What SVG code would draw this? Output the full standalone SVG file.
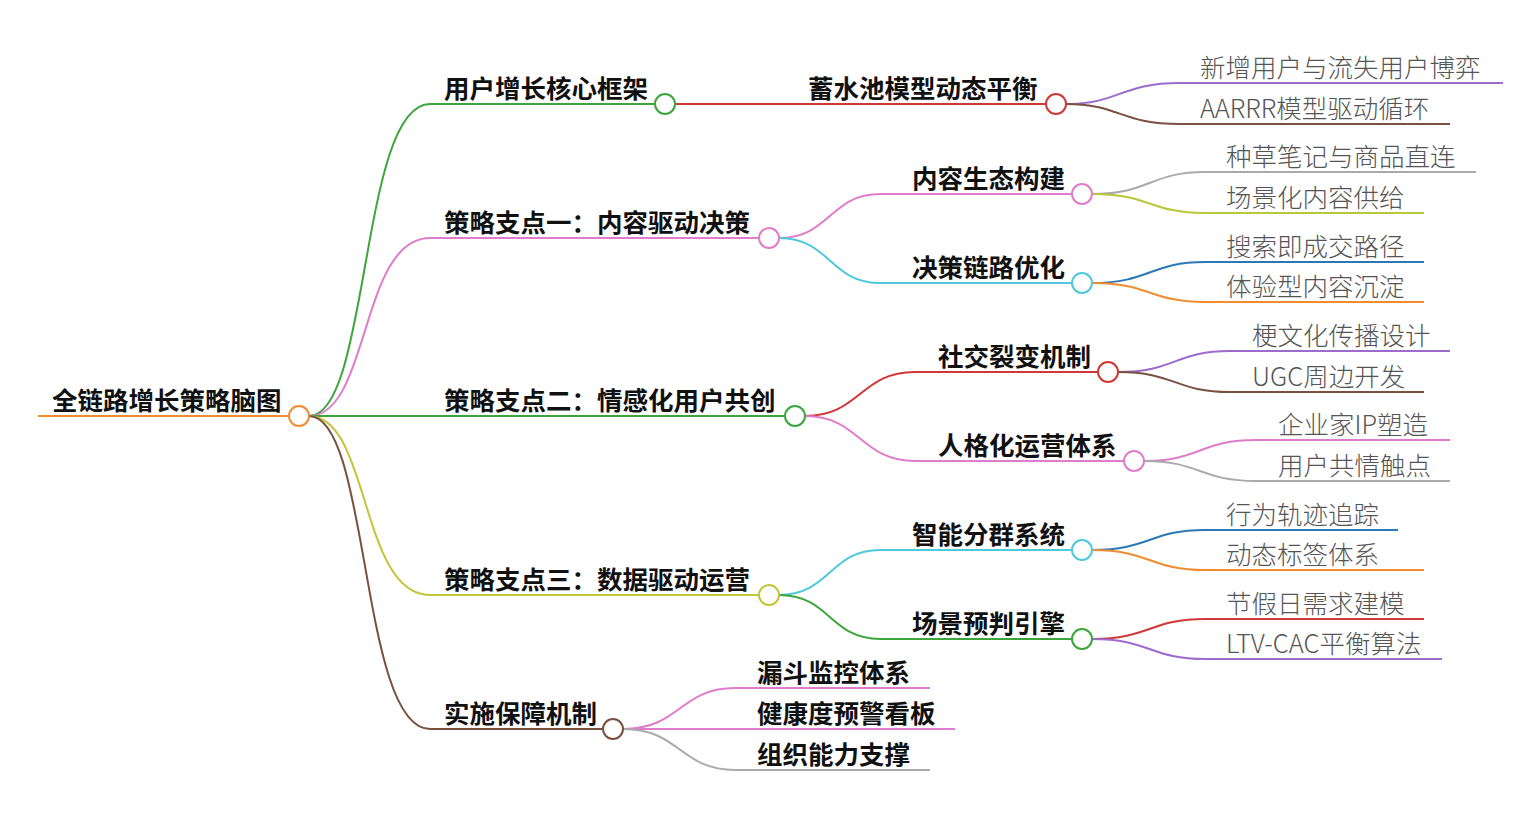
<svg xmlns="http://www.w3.org/2000/svg" width="1537" height="820" viewBox="0 0 1537 820">
<style>
text{font-family:"Noto Sans CJK SC","Noto Sans",sans-serif}
.b{font-size:25.5px;font-weight:700;fill:#111}
.l{font-size:25.5px;font-weight:300;fill:#555}
path{fill:none;stroke-width:2}
circle{fill:#fff;stroke-width:2}
</style>
<rect width="1537" height="820" fill="#fff"/>
<g id="connectors">
<path d="M38,416H290" stroke="#f08c32" stroke-width="3"/>
<path d="M309,416C370,416 360,104 430,104H655" stroke="#3ca53c"/>
<path d="M309,416C370,416 360,238 430,238H759" stroke="#e07ccc"/>
<path d="M309,416H785" stroke="#3ca53c"/>
<path d="M309,416C370,416 360,595 430,595H759" stroke="#c4c43a"/>
<path d="M309,416C370,416 360,729 430,729H603" stroke="#7a5040"/>
<path d="M675,104H1046" stroke="#d03838"/>
<path d="M779,238C830,238 830,194 880,194H1072" stroke="#e07ccc"/>
<path d="M779,238C830,238 830,283 880,283H1072" stroke="#50c8dc"/>
<path d="M805,416C860,416 860,372 915,372H1098" stroke="#d03838"/>
<path d="M805,416C860,416 860,461 915,461H1124" stroke="#e07ccc"/>
<path d="M779,595C830,595 830,550 880,550H1072" stroke="#50c8dc"/>
<path d="M779,595C830,595 830,639 880,639H1072" stroke="#3ca53c"/>
<path d="M623,729C680,729 680,688 735,688H930" stroke="#e07ccc"/>
<path d="M623,729H955" stroke="#e07ccc"/>
<path d="M623,729C680,729 680,770 735,770H930" stroke="#aaa"/>
<path d="M1066,104C1120,104 1120,83 1180,83H1503" stroke="#9c6ccc"/>
<path d="M1066,104C1120,104 1120,124 1180,124H1450" stroke="#7a5040"/>
<path d="M1092,194C1150,194 1150,172 1205,172H1476" stroke="#aaa"/>
<path d="M1092,194C1150,194 1150,213 1205,213H1424" stroke="#b8c83a"/>
<path d="M1092,283C1150,283 1150,262 1205,262H1424" stroke="#2c78b4"/>
<path d="M1092,283C1150,283 1150,302 1205,302H1424" stroke="#f08c32"/>
<path d="M1118,372C1175,372 1175,351 1230,351H1450" stroke="#9c6ccc"/>
<path d="M1118,372C1175,372 1175,392 1230,392H1424" stroke="#7a5040"/>
<path d="M1144,461C1200,461 1200,440 1256,440H1450" stroke="#e07ccc"/>
<path d="M1144,461C1200,461 1200,481 1256,481H1450" stroke="#aaa"/>
<path d="M1092,550C1150,550 1150,530 1205,530H1398" stroke="#2c78b4"/>
<path d="M1092,550C1150,550 1150,570 1205,570H1424" stroke="#f08c32"/>
<path d="M1092,639C1150,639 1150,619 1205,619H1424" stroke="#d03838"/>
<path d="M1092,639C1150,639 1150,659 1205,659H1442" stroke="#9c6ccc"/>
</g>
<g id="root"><text class="b" x="52" y="410">全链路增长策略脑图</text><circle cx="299" cy="416" r="10" stroke="#f08c32"/></g>
<g id="n1"><text class="b" x="444" y="98">用户增长核心框架</text><circle cx="665" cy="104" r="10" stroke="#3ca53c"/></g>
<g id="n2"><text class="b" x="444" y="232">策略支点一：内容驱动决策</text><circle cx="769" cy="238" r="10" stroke="#e07ccc"/></g>
<g id="n3"><text class="b" x="444" y="410">策略支点二：情感化用户共创</text><circle cx="795" cy="416" r="10" stroke="#3ca53c"/></g>
<g id="n4"><text class="b" x="444" y="589">策略支点三：数据驱动运营</text><circle cx="769" cy="595" r="10" stroke="#c4c43a"/></g>
<g id="n5"><text class="b" x="444" y="723">实施保障机制</text><circle cx="613" cy="729" r="10" stroke="#7a5040"/></g>
<g id="n11"><text class="b" x="808" y="98">蓄水池模型动态平衡</text><circle cx="1056" cy="104" r="10" stroke="#d03838"/></g>
<g id="n21"><text class="b" x="912" y="188">内容生态构建</text><circle cx="1082" cy="194" r="10" stroke="#e07ccc"/></g>
<g id="n22"><text class="b" x="912" y="277">决策链路优化</text><circle cx="1082" cy="283" r="10" stroke="#50c8dc"/></g>
<g id="n31"><text class="b" x="938" y="366">社交裂变机制</text><circle cx="1108" cy="372" r="10" stroke="#d03838"/></g>
<g id="n32"><text class="b" x="938" y="455">人格化运营体系</text><circle cx="1134" cy="461" r="10" stroke="#e07ccc"/></g>
<g id="n41"><text class="b" x="912" y="544">智能分群系统</text><circle cx="1082" cy="550" r="10" stroke="#50c8dc"/></g>
<g id="n42"><text class="b" x="912" y="633">场景预判引擎</text><circle cx="1082" cy="639" r="10" stroke="#3ca53c"/></g>
<g id="n51"><text class="b" x="757" y="682">漏斗监控体系</text></g>
<g id="n52"><text class="b" x="757" y="723">健康度预警看板</text></g>
<g id="n53"><text class="b" x="757" y="764">组织能力支撑</text></g>
<g id="leaves">
<text class="l" x="1200" y="77">新增用户与流失用户博弈</text>
<text class="l" x="1200" y="118">AARRR模型驱动循环</text>
<text class="l" x="1226" y="166">种草笔记与商品直连</text>
<text class="l" x="1226" y="207">场景化内容供给</text>
<text class="l" x="1226" y="256">搜索即成交路径</text>
<text class="l" x="1226" y="296">体验型内容沉淀</text>
<text class="l" x="1252" y="345">梗文化传播设计</text>
<text class="l" x="1252" y="386">UGC周边开发</text>
<text class="l" x="1278" y="434">企业家IP塑造</text>
<text class="l" x="1278" y="475">用户共情触点</text>
<text class="l" x="1226" y="524">行为轨迹追踪</text>
<text class="l" x="1226" y="564">动态标签体系</text>
<text class="l" x="1226" y="613">节假日需求建模</text>
<text class="l" x="1226" y="653">LTV-CAC平衡算法</text>
</g>
</svg>
